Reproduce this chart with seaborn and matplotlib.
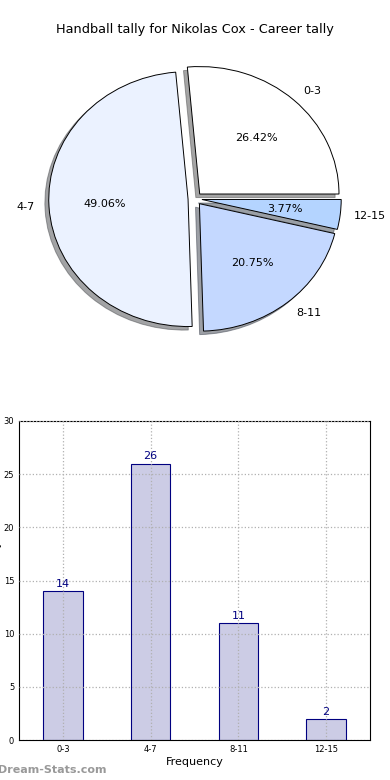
import matplotlib
matplotlib.use("Agg")
import matplotlib.pyplot as plt
import seaborn as sns
import pandas as pd

# tally data
categories = ["0-3", "4-7", "8-11", "12-15"]
counts = [14, 26, 11, 2]
pie_colors = ["#FFFFFF", "#EBF2FF", "#C4D8FF", "#B4D4FF"]

sns.set_style("white")
plt.rcParams["font.family"] = ["DejaVu Sans"]
plt.rcParams["text.color"] = "black"
plt.rcParams["axes.labelcolor"] = "black"
plt.rcParams["xtick.color"] = "black"
plt.rcParams["ytick.color"] = "black"

fig = plt.figure(figsize=(3.9, 7.8), dpi=100)

# pie on top (old-style: not forced to a circle)
ax1 = fig.add_axes([0, 0.4936, 1, 0.5])
ax1.pie(counts, labels=categories, colors=pie_colors, autopct="%1.2f%%",
        explode=[0.05] * 4, shadow=True, startangle=0,
        wedgeprops={"edgecolor": "black", "linewidth": 0.7},
        textprops={"fontsize": 8, "color": "black"})
ax1.set_aspect("auto")
ax1.set_xlim(-1.40, 1.40)
ax1.set_ylim(-1.54, 1.52)
ax1.axis("off")
fig.text(0.5, 1 - 30 / 780, "Handball tally for Nikolas Cox - Career tally",
         ha="center", va="center", fontsize=9.3)

# bar chart below
df = pd.DataFrame({"band": categories, "count": counts})
ax2 = fig.add_axes([19 / 390, 40 / 780, 351 / 390, 319 / 780])
sns.barplot(data=df, x="band", y="count", color="#CCCCE5", edgecolor="navy",
            linewidth=0.8, width=0.45, saturation=1, ax=ax2, zorder=2)
for i, v in enumerate(counts):
    ax2.text(i, v + 0.2, str(v), ha="center", va="bottom", color="navy", fontsize=8)
ax2.set_xlim(-0.5, 3.5)
ax2.set_ylim(0, 30)
ax2.set_yticks(range(0, 31, 5))
ax2.grid(True, linestyle=":", color="#b0b0b0", linewidth=0.9)
ax2.set_axisbelow(False)
ax2.tick_params(axis="both", labelsize=6, direction="in", length=3, color="black")
ax2.set_xlabel("Frequency", fontsize=8, labelpad=2)
ax2.set_ylabel("Games in tally", fontsize=8, labelpad=1)
for s in ax2.spines.values():
    s.set_color("black")
    s.set_linewidth(0.8)

fig.text(-0.005, 10 / 780, "Dream-Stats.com", color="#999999", fontsize=8,
         fontweight="bold", ha="left", va="center")

fig.savefig("out.png", dpi=100)
